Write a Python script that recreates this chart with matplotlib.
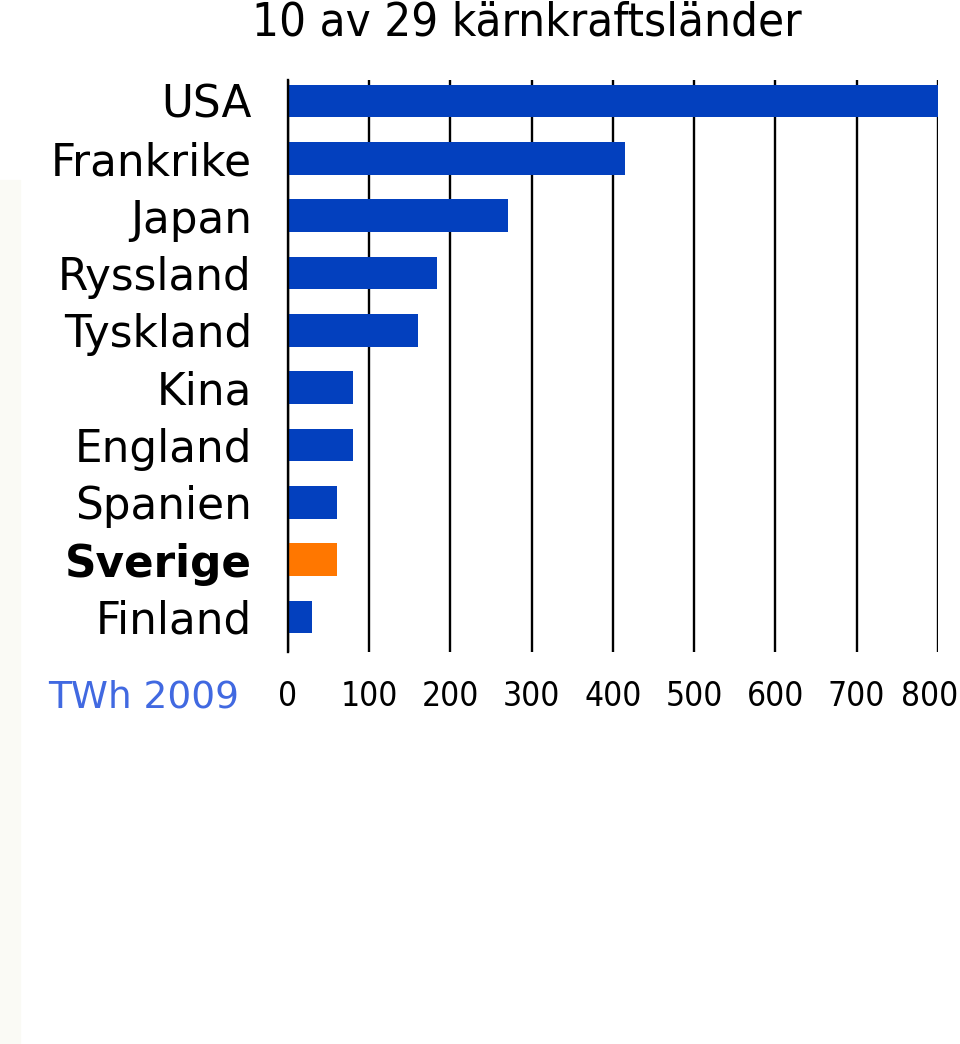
import matplotlib.pyplot as plt
from matplotlib.patches import Rectangle

# TWh 2009, topp 10 av 29 kärnkraftsländer
countries = ["USA", "Frankrike", "Japan", "Ryssland", "Tyskland",
             "Kina", "England", "Spanien", "Sverige", "Finland"]
twh = [800, 415, 271, 183, 160, 80, 80, 60, 60, 30]
bar_colors = ["#0340BE"] * 8 + ["#FF7700"] + ["#0340BE"]
xticks = [0, 100, 200, 300, 400, 500, 600, 700, 800]

fig = plt.figure(figsize=(9.6, 10.44), dpi=100)
fig.patches.append(Rectangle((0, 0), 20 / 960, 1 - 180 / 1044,
                             transform=fig.transFigure,
                             color="#FAFAF5", zorder=0))

ax = fig.add_axes([0.30, 0.3755, 0.677, 0.548])
ypos = list(range(len(countries)))
ax.barh(ypos, twh, height=0.57, color=bar_colors, zorder=3)

ax.set_xlim(0, 800)
ax.set_ylim(len(countries) - 1 + 0.61, -0.366)
ax.set_xticks(xticks)
ax.set_xticklabels([])
# tick labels drawn by hand so the last one can sit inside the figure
for t in xticks:
    dx = -6 if t == xticks[-1] else 0
    ax.annotate(str(t), xy=(t, 0), xycoords=ax.get_xaxis_transform(),
                xytext=(dx, -32), textcoords="offset points",
                ha="center", va="center", fontsize=24,
                fontstretch="condensed", annotation_clip=False)
ax.set_yticks(ypos)
ax.set_yticklabels(countries, fontsize=31.5)
ax.get_yticklabels()[8].set_fontweight("bold")
ax.tick_params(axis="both", length=0)
ax.tick_params(axis="y", pad=26)

ax.grid(axis="x", color="black", linewidth=1.7, zorder=1)
for side in ["top", "right", "bottom"]:
    ax.spines[side].set_visible(False)
ax.spines["left"].set_linewidth(1.7)
ax.spines["left"].set_zorder(4)

fig.text(252 / 960, 1 - 0 / 1044, "10 av 29 kärnkraftsländer",
         ha="left", va="top", fontsize=34, fontstretch="condensed")
fig.text(48 / 960, 1 - 697 / 1044, "TWh 2009", ha="left", va="center",
         fontsize=27, color="#4169E1")

fig.savefig("out.png", dpi=100)
